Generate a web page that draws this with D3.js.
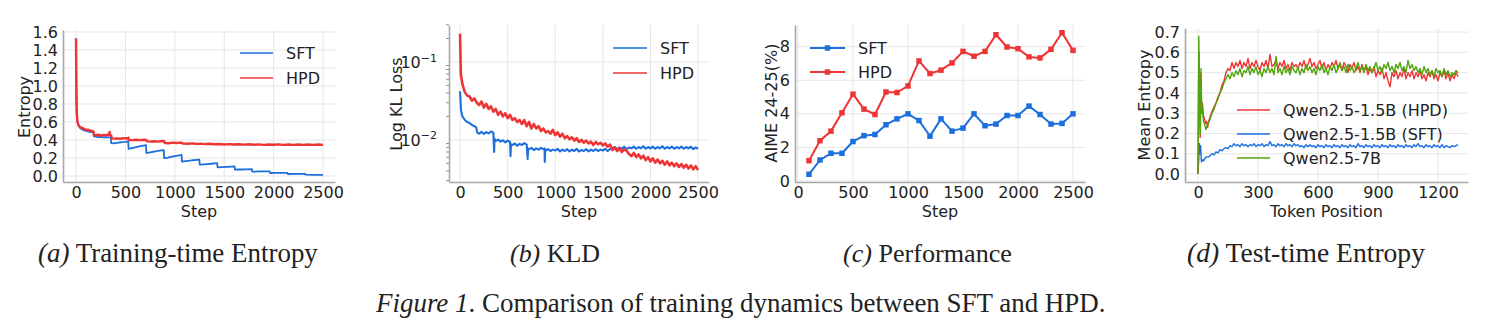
<!DOCTYPE html>
<html>
<head>
<meta charset="utf-8">
<script src="https://cdn.jsdelivr.net/npm/d3@7"></script>
<style>
  body { margin: 0; background: #fff; }
  text { font-family: "DejaVu Sans", sans-serif; fill: #222; }
  .cap { font-family: "Liberation Serif", "Times New Roman", serif; }
</style>
</head>
<body>
<svg id="fig" width="1487" height="335"></svg>
<script>
// ---- data ----
// (a) training-time entropy, [step, entropy]
const entropySFT = [[0,1.50],[2,1.1],[4,0.85],[6,0.74],[9,0.66],[13,0.61],[18,0.58],[25,0.56],[35,0.54],[45,0.53],[60,0.52],[75,0.51],[90,0.505],[105,0.50],[120,0.495],[140,0.49],[160,0.488],[176,0.485],
  [180,0.44],[200,0.436],[225,0.432],[250,0.434],[275,0.43],[300,0.432],[325,0.428],[352,0.43],
  [356,0.365],[380,0.362],[410,0.368],[440,0.372],[470,0.376],[500,0.38],[528,0.385],
  [532,0.30],[560,0.308],[600,0.318],[640,0.328],[680,0.336],[708,0.342],
  [712,0.255],[750,0.262],[790,0.27],[830,0.278],[865,0.284],[888,0.288],
  [892,0.198],[930,0.205],[970,0.214],[1010,0.222],[1045,0.23],[1068,0.234],
  [1072,0.16],[1110,0.165],[1150,0.17],[1190,0.176],[1225,0.18],[1248,0.182],
  [1252,0.125],[1290,0.128],[1330,0.132],[1370,0.136],[1405,0.14],[1428,0.142],
  [1432,0.095],[1480,0.098],[1530,0.101],[1575,0.104],[1604,0.106],
  [1608,0.07],[1660,0.072],[1720,0.074],[1780,0.075],
  [1784,0.048],[1850,0.05],[1910,0.052],[1960,0.052],
  [1964,0.033],[2030,0.034],[2100,0.035],[2140,0.035],
  [2144,0.022],[2220,0.023],[2280,0.023],[2320,0.022],
  [2324,0.014],[2400,0.013],[2460,0.012],[2500,0.012]];
const entropyHPD = [[0,1.53],[2,1.15],[4,0.9],[6,0.76],[9,0.67],[13,0.62],[18,0.59],[25,0.565],[35,0.55],[45,0.54],[60,0.535],[75,0.525],[90,0.52],[105,0.51],[120,0.515],[140,0.505],[160,0.50],[176,0.495],
  [182,0.455],[200,0.452],[225,0.458],[250,0.45],[275,0.455],[300,0.452],[320,0.46],[335,0.455],[340,0.49],[344,0.455],[356,0.45],
  [362,0.418],[390,0.415],[420,0.418],[450,0.414],[480,0.42],[510,0.416],[530,0.424],
  [536,0.40],[570,0.398],[610,0.402],[650,0.398],[690,0.403],[712,0.40],
  [718,0.385],[750,0.382],[790,0.386],[830,0.382],[870,0.388],[892,0.386],
  [898,0.366],[940,0.364],[980,0.37],[1020,0.366],[1060,0.37],[1075,0.366],
  [1080,0.36],[1130,0.358],[1180,0.362],[1230,0.356],[1260,0.36],[1300,0.354],[1350,0.358],[1400,0.353],[1450,0.356],
  [1500,0.35],[1550,0.354],[1600,0.349],[1650,0.353],[1700,0.348],[1750,0.352],[1800,0.347],[1850,0.351],[1900,0.346],
  [1950,0.35],[2000,0.347],[2050,0.351],[2100,0.346],[2150,0.35],[2200,0.346],[2250,0.35],[2300,0.345],[2350,0.349],
  [2400,0.345],[2450,0.35],[2500,0.346]];

// (b) KL loss, [step, loss]
const klSFT = [[0,0.042],[10,0.024],[25,0.020],[50,0.018],[75,0.017],[100,0.0165],[125,0.0155],[150,0.015],[170,0.0145],
  [180,0.0125],[200,0.012],[225,0.0127],[250,0.0119],[275,0.0126],[300,0.0121],[325,0.0128],[350,0.0124],
  [358,0.007],[362,0.0103],[375,0.0097],[400,0.0101],[425,0.0095],[450,0.0099],[475,0.0093],[500,0.0098],[525,0.0094],
  [530,0.0062],[535,0.0088],[550,0.0086],[575,0.0090],[600,0.0084],[625,0.0089],[650,0.0086],[675,0.0091],[700,0.0087],
  [710,0.0057],[715,0.0077],[725,0.0076],[750,0.0079],[775,0.0074],[800,0.0078],[825,0.0075],[850,0.0079],[875,0.0076],[888,0.0078],
  [890,0.0052],[895,0.0073],[925,0.0076],[950,0.0072],[975,0.0075],[1000,0.0073],[1025,0.0077],[1050,0.0071],[1075,0.0075],
  [1100,0.0072],[1125,0.0076],[1150,0.0071],[1175,0.0075],[1200,0.0072],[1225,0.0077],[1250,0.0071],[1275,0.0074],
  [1300,0.0072],[1325,0.0076],[1350,0.0071],[1375,0.0075],[1400,0.0072],[1425,0.0076],[1450,0.0072],[1475,0.0075],
  [1500,0.0073],[1525,0.0077],[1550,0.0072],[1575,0.0076],[1600,0.0078],[1625,0.0081],[1650,0.0076],[1675,0.0080],
  [1700,0.0077],[1725,0.0082],[1750,0.0076],[1775,0.0080],[1800,0.0078],[1825,0.0082],[1850,0.0077],[1875,0.0081],
  [1900,0.0078],[1925,0.0083],[1950,0.0077],[1975,0.0081],[2000,0.0078],[2025,0.0082],[2050,0.0077],[2075,0.0081],
  [2100,0.0078],[2125,0.0083],[2150,0.0077],[2175,0.0081],[2200,0.0078],[2225,0.0082],[2250,0.0077],[2275,0.0081],
  [2300,0.0078],[2325,0.0082],[2350,0.0077],[2375,0.0081],[2400,0.0078],[2425,0.0082],[2450,0.0076],[2475,0.0080],[2500,0.0077]];
const klHPD = [[0,0.23],[8,0.07],[25,0.052],[50,0.041],[75,0.037],[100,0.036],[125,0.032],[150,0.034],[175,0.030],
  [200,0.028],[225,0.031],[250,0.026],[275,0.029],[300,0.025],[325,0.027],[350,0.023],[375,0.025],
  [400,0.021],[425,0.023],[450,0.020],[475,0.022],[500,0.019],[525,0.021],[550,0.018],[575,0.019],
  [600,0.017],[625,0.018],[650,0.016],[675,0.018],[700,0.015],[725,0.017],[750,0.014],[775,0.016],
  [800,0.014],[825,0.015],[850,0.013],[875,0.014],[900,0.0125],[925,0.013],[950,0.012],[975,0.0135],
  [1000,0.0115],[1025,0.0125],[1050,0.011],[1075,0.012],[1100,0.0105],[1125,0.0112],[1150,0.0102],[1175,0.0108],
  [1200,0.0098],[1225,0.0105],[1250,0.0094],[1275,0.0100],[1300,0.0092],[1325,0.0098],[1350,0.0090],[1375,0.0095],
  [1400,0.0086],[1425,0.0094],[1450,0.0088],[1475,0.0092],[1500,0.0085],[1525,0.0090],[1550,0.0082],[1575,0.0087],
  [1600,0.0074],[1625,0.0080],[1650,0.0072],[1675,0.0078],[1700,0.0070],[1725,0.0076],[1750,0.0072],[1775,0.0066],
  [1800,0.0062],[1825,0.0068],[1850,0.0060],[1875,0.0065],[1900,0.0058],[1925,0.0063],[1950,0.0055],[1975,0.0060],
  [2000,0.0053],[2025,0.0058],[2050,0.0051],[2075,0.0056],[2100,0.0050],[2125,0.0054],[2150,0.0048],[2175,0.0053],
  [2200,0.0047],[2225,0.0051],[2250,0.0046],[2275,0.0050],[2300,0.0045],[2325,0.0049],[2350,0.0044],[2375,0.0048],
  [2400,0.0043],[2425,0.0047],[2450,0.0042],[2475,0.0046],[2500,0.0041]];

// (c) AIME 24-25 accuracy, every 100 steps
const evalSteps = [100,200,300,400,500,600,700,800,900,1000,1100,1200,1300,1400,1500,1600,1700,1800,1900,2000,2100,2200,2300,2400,2500];
const aimeSFT = [0.4,1.25,1.65,1.65,2.35,2.7,2.77,3.35,3.7,4.0,3.6,2.67,3.7,2.97,3.15,4.0,3.29,3.39,3.9,3.9,4.46,3.96,3.39,3.43,4.0];
const aimeHPD = [1.21,2.4,2.97,4.06,5.17,4.28,3.96,5.3,5.27,5.66,7.15,6.4,6.6,7.03,7.72,7.43,7.72,8.71,7.98,7.88,7.39,7.33,7.84,8.83,7.78];

// (d) test-time entropy: first tokens as [pos, value], then one value every 10 tokens from 60 to 1300
const hpdHead = [[0,0],[3,0.45],[5,0.60],[8,0.35],[11,0.18],[14,0.50],[18,0.30],[22,0.35],[27,0.29],[33,0.27],[38,0.25],[43,0.26],[48,0.23],[53,0.26]];
const hpdTail = [
  0.28,0.31,0.33,0.35,0.38,0.40,0.44,0.46,0.50,0.52,
  0.51,0.55,0.52,0.55,0.53,0.56,0.52,0.55,0.53,0.57,
  0.52,0.55,0.53,0.56,0.53,0.51,0.55,0.53,0.56,0.52,
  0.59,0.53,0.54,0.56,0.52,0.55,0.53,0.56,0.52,0.54,
  0.51,0.55,0.53,0.54,0.52,0.55,0.53,0.56,0.52,0.54,
  0.57,0.53,0.55,0.52,0.54,0.56,0.52,0.55,0.51,0.54,
  0.52,0.55,0.53,0.56,0.52,0.54,0.51,0.55,0.53,0.50,
  0.54,0.52,0.55,0.51,0.53,0.50,0.54,0.51,0.53,0.49,
  0.52,0.50,0.53,0.48,0.51,0.49,0.52,0.47,0.50,0.46,
  0.43,0.50,0.48,0.51,0.47,0.50,0.48,0.52,0.47,0.50,
  0.48,0.51,0.47,0.50,0.48,0.51,0.47,0.49,0.46,0.50,
  0.48,0.51,0.47,0.49,0.46,0.50,0.48,0.51,0.47,0.50,
  0.46,0.49,0.47,0.50,0.48];
const q7bHead = [[0,0],[2,0.3],[4,0.68],[6,0.5],[9,0.3],[12,0.2],[15,0.52],[18,0.35],[23,0.3],[28,0.26],[34,0.24],[40,0.22],[46,0.24],[52,0.25]];
const q7bTail = [
  0.27,0.30,0.32,0.35,0.37,0.40,0.42,0.45,0.47,0.49,
  0.47,0.50,0.48,0.51,0.49,0.52,0.48,0.51,0.50,0.53,
  0.49,0.52,0.50,0.53,0.49,0.51,0.48,0.52,0.50,0.53,
  0.50,0.52,0.49,0.58,0.50,0.52,0.49,0.53,0.50,0.52,
  0.49,0.53,0.51,0.50,0.53,0.49,0.52,0.50,0.54,0.51,
  0.53,0.50,0.52,0.49,0.53,0.51,0.54,0.50,0.52,0.49,
  0.53,0.51,0.54,0.50,0.52,0.55,0.51,0.53,0.50,0.54,
  0.51,0.53,0.50,0.52,0.55,0.51,0.53,0.50,0.54,0.51,
  0.53,0.50,0.52,0.55,0.51,0.53,0.50,0.54,0.52,0.55,
  0.51,0.53,0.50,0.54,0.52,0.55,0.51,0.53,0.50,0.56,
  0.52,0.54,0.51,0.53,0.50,0.52,0.49,0.53,0.50,0.52,
  0.49,0.51,0.48,0.52,0.50,0.51,0.48,0.52,0.49,0.51,
  0.48,0.50,0.49,0.51,0.50];
const sftHead = [[0,0],[4,0.08],[7,0.15],[10,0.1],[13,0.14],[17,0.06],[22,0.07],[28,0.065],[36,0.08],[44,0.085],[52,0.085]];
const sftTail = [
  0.09,0.10,0.095,0.11,0.105,0.12,0.115,0.125,0.13,0.125,
  0.14,0.135,0.15,0.14,0.145,0.135,0.15,0.14,0.145,0.135,
  0.145,0.14,0.15,0.135,0.145,0.14,0.15,0.135,0.145,0.14,
  0.16,0.14,0.145,0.135,0.15,0.14,0.145,0.135,0.15,0.14,
  0.145,0.135,0.15,0.14,0.145,0.135,0.14,0.13,0.145,0.135,
  0.145,0.135,0.14,0.13,0.145,0.135,0.14,0.13,0.145,0.135,
  0.14,0.13,0.145,0.135,0.14,0.13,0.145,0.135,0.14,0.13,
  0.145,0.135,0.14,0.13,0.15,0.135,0.14,0.13,0.145,0.135,
  0.14,0.13,0.145,0.135,0.14,0.13,0.145,0.135,0.14,0.13,
  0.145,0.135,0.14,0.13,0.145,0.135,0.14,0.13,0.145,0.135,
  0.14,0.13,0.145,0.135,0.15,0.135,0.14,0.13,0.145,0.135,
  0.14,0.13,0.145,0.135,0.14,0.13,0.145,0.13,0.14,0.135,
  0.13,0.14,0.135,0.14,0.145];

const stepTicks = [0,500,1000,1500,2000,2500];
const entropyTicks = [0,0.2,0.4,0.6,0.8,1.0,1.2,1.4,1.6];
const klTicks = [0.01,0.1];
const aimeTicks = [0,2,4,6,8];
const tokenTicks = [0,300,600,900,1200];
const meanEntTicks = [0,0.1,0.2,0.3,0.4,0.5,0.6,0.7];
const subCaptions = [["(a)"," Training-time Entropy"],["(b)"," KLD"],["(c)"," Performance"],["(d)"," Test-time Entropy"]];

// ---- drawing ----
const BLUE = "#1c6fdc", RED = "#ee3535", GREEN = "#4fa50c";
const svg = d3.select("#fig");
svg.append("rect").attr("width", 1487).attr("height", 335).attr("fill", "#fff");

function tail(head, vals) {
  // token positions of the tail start at 60 and go every 10
  return head.concat(vals.map((v, i) => [60 + i * 10, v]));
}

// grid + gray left/bottom spines + tick labels
function frame(x, y, xTicks, yTicks, xFmt, yFmt) {
  const [xl, xr] = x.range(), [yb, yt] = y.range();
  const g = svg.append("g");
  g.selectAll(".gx").data(xTicks).join("line")
    .attr("x1", d => x(d)).attr("x2", d => x(d)).attr("y1", yb).attr("y2", yt)
    .attr("stroke", "#e6e6e6").attr("stroke-width", 1);
  g.selectAll(".gy").data(yTicks).join("line")
    .attr("x1", xl).attr("x2", xr).attr("y1", d => y(d)).attr("y2", d => y(d))
    .attr("stroke", "#e6e6e6").attr("stroke-width", 1);

  const ax = svg.append("g").attr("transform", `translate(0,${yb})`)
    .call(d3.axisBottom(x).tickValues(xTicks).tickSize(0).tickPadding(5).tickFormat(xFmt));
  const ay = svg.append("g").attr("transform", `translate(${xl},0)`)
    .call(d3.axisLeft(y).tickValues(yTicks).tickSize(0).tickPadding(5).tickFormat(yFmt));
  [ax, ay].forEach(a => {
    a.select(".domain").attr("stroke", "#a8a8a8").attr("stroke-width", 1.6);
    a.selectAll("text").attr("font-size", 16).attr("fill", "#222").attr("font-family", "DejaVu Sans");
  });
  return ay;
}

function xTitle(x, txt) {
  const [a, b] = x.range();
  svg.append("text").attr("x", (a + b) / 2).attr("y", 217).attr("text-anchor", "middle")
    .attr("font-size", 16).text(txt);
}
function yTitle(xPos, yMid, txt) {
  svg.append("text").attr("transform", `translate(${xPos},${yMid}) rotate(-90)`)
    .attr("text-anchor", "middle").attr("font-size", 16).text(txt);
}
function legend(items, x0, ys, len, markers) {
  items.forEach((it, i) => {
    svg.append("line").attr("x1", x0).attr("x2", x0 + len).attr("y1", ys[i]).attr("y2", ys[i])
      .attr("stroke", it[1]).attr("stroke-width", markers ? 2 : 1.4);
    if (markers) {
      svg.append("path").attr("d", d3.symbol(d3.symbolSquare, 30)())
        .attr("transform", `translate(${x0 + len / 2},${ys[i]})`).attr("fill", it[1]);
    }
    svg.append("text").attr("x", x0 + len + 13).attr("y", ys[i] + 6).attr("font-size", 16).text(it[0]);
  });
}
function path(data, x, y, color, w) {
  svg.append("path").datum(data)
    .attr("d", d3.line().x(d => x(d[0])).y(d => y(d[1])))
    .attr("fill", "none").attr("stroke", color).attr("stroke-width", w).attr("stroke-linejoin", "round");
}

// (a)
{
  const x = d3.scaleLinear().domain([-132, 2621]).range([63, 335]);
  const y = d3.scaleLinear().domain([-0.067, 1.622]).range([182, 30]);
  frame(x, y, stepTicks, entropyTicks, d3.format("d"), d3.format(".1f"));
  path(entropySFT, x, y, BLUE, 1.8);
  path(entropyHPD, x, y, RED, 2.4);
  xTitle(x, "Step");
  yTitle(30, 107, "Entropy");
  legend([["SFT", BLUE], ["HPD", RED]], 240, [53, 78], 33, false);
}

// (b)
{
  const x = d3.scaleLinear().domain([-116, 2615]).range([449, 709]);
  const y = d3.scaleLog().domain([Math.pow(10, -2.54), Math.pow(10, -0.526)]).range([182, 25]);
  const ay = frame(x, y, stepTicks, klTicks, d3.format("d"), () => "");
  // 10^k labels
  ay.selectAll(".tick text").each(function (d) {
    const t = d3.select(this).text(null).attr("x", -12);
    t.append("tspan").text("10");
    t.append("tspan").attr("dy", "-0.55em").attr("font-size", 11).text("\u2212" + Math.round(-Math.log10(d)));
  });
  const minor = [0.003,0.004,0.005,0.006,0.007,0.008,0.009,0.02,0.03,0.04,0.05,0.06,0.07,0.08,0.09,0.2,0.3];
  svg.append("g").selectAll("line").data(minor).join("line")
    .attr("x1", 449).attr("x2", 446).attr("y1", d => y(d)).attr("y2", d => y(d))
    .attr("stroke", "#777").attr("stroke-width", 0.8);
  path(klSFT, x, y, BLUE, 2.1);
  path(klHPD, x, y, RED, 2.6);
  xTitle(x, "Step");
  yTitle(402, 104, "Log KL Loss");
  legend([["SFT", BLUE], ["HPD", RED]], 613, [48, 73], 34, false);
}

// (c)
{
  const x = d3.scaleLinear().domain([-27, 2609]).range([795, 1085]);
  const y = d3.scaleLinear().domain([-0.06, 9.29]).range([182, 25]);
  frame(x, y, stepTicks, aimeTicks, d3.format("d"), d3.format("d"));
  [[aimeSFT, BLUE], [aimeHPD, RED]].forEach(([vals, c]) => {
    const pts = evalSteps.map((s, i) => [s, vals[i]]);
    path(pts, x, y, c, 2);
    svg.append("g").selectAll("path").data(pts).join("path")
      .attr("d", d3.symbol(d3.symbolSquare, 30)())
      .attr("transform", d => `translate(${x(d[0])},${y(d[1])})`).attr("fill", c);
  });
  xTitle(x, "Step");
  yTitle(777, 103, "AIME 24-25(%)");
  legend([["SFT", BLUE], ["HPD", RED]], 810, [48, 72], 35, true);
}

// (d)
{
  const x = d3.scaleLinear().domain([-65, 1350]).range([1185, 1468]);
  const y = d3.scaleLinear().domain([-0.039, 0.72]).range([182, 28]);
  frame(x, y, tokenTicks, meanEntTicks, d3.format("d"), d3.format(".1f"));
  path(tail(sftHead, sftTail), x, y, BLUE, 1.4);
  path(tail(hpdHead, hpdTail), x, y, RED, 1.4);
  path(tail(q7bHead, q7bTail), x, y, GREEN, 1.4);
  xTitle(x, "Token Position");
  yTitle(1150, 105, "Mean Entropy");
  legend([["Qwen2.5-1.5B (HPD)", RED], ["Qwen2.5-1.5B (SFT)", BLUE], ["Qwen2.5-7B", GREEN]], 1237, [110, 134, 158], 33, false);
}

// captions
const capX = [38, 510, 843, 1187], capW = [280, 90, 169, 238];
subCaptions.forEach((c, i) => {
  const t = svg.append("text").attr("class", "cap").attr("x", capX[i]).attr("y", 262).attr("font-size", 22);
  t.append("tspan").attr("font-style", "italic").text(c[0]);
  t.append("tspan").text(c[1]);
  const w = t.node().getComputedTextLength();
  t.attr("font-size", 22 * capW[i] / w);
});
{
  const t = svg.append("text").attr("class", "cap").attr("x", 376).attr("y", 312).attr("font-size", 22);
  t.append("tspan").attr("font-style", "italic").text("Figure 1");
  t.append("tspan").text(". Comparison of training dynamics between SFT and HPD.");
  const w = t.node().getComputedTextLength();
  t.attr("font-size", 22 * 730 / w);
}
</script>
</body>
</html>
